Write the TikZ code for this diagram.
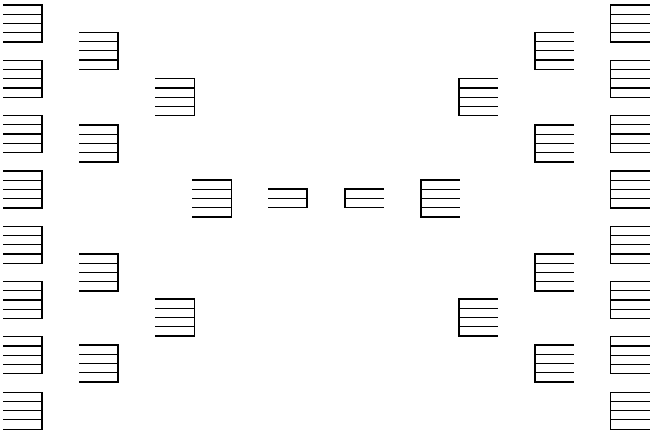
\documentclass[tikz,border=0pt]{standalone}
\begin{document}
\begin{tikzpicture}[x=1pt,y=-1pt,
  slot/.style={line width=1.2pt,black,line cap=rect},
  fiveR/.pic={
    \foreach \i in {0,...,4} \draw[slot] (0,\i*9.25) -- (38.5,\i*9.25);
    \draw[slot] (38.5,0) -- (38.5,37);
  },
  fiveL/.pic={
    \foreach \i in {0,...,4} \draw[slot] (0,\i*9.25) -- (38.5,\i*9.25);
    \draw[slot] (0,0) -- (0,37);
  },
  threeR/.pic={
    \foreach \i in {0,...,2} \draw[slot] (0,\i*9.35) -- (38,\i*9.35);
    \draw[slot] (38,0) -- (38,18.7);
  },
  threeL/.pic={
    \foreach \i in {0,...,2} \draw[slot] (0,\i*9.35) -- (38,\i*9.35);
    \draw[slot] (0,0) -- (0,18.7);
  }]
\useasboundingbox (0,0) rectangle (653,433);
% left half
\foreach \k in {0,...,7} \pic at (3.5,{5+\k*55.3}) {fiveR};
\foreach \t in {32.3,125,254,345} \pic at (79.5,\t) {fiveR};
\foreach \t in {78.7,299} \pic at (156,\t) {fiveR};
\pic at (193,180) {fiveR};
\pic at (269,189) {threeR};
% right half
\pic at (345,189) {threeL};
\pic at (421,180) {fiveL};
\foreach \t in {78.7,299} \pic at (459,\t) {fiveL};
\foreach \t in {32.3,125,254,345} \pic at (535,\t) {fiveL};
\foreach \k in {0,...,7} \pic at (610.5,{5+\k*55.3}) {fiveL};
\end{tikzpicture}
\end{document}
